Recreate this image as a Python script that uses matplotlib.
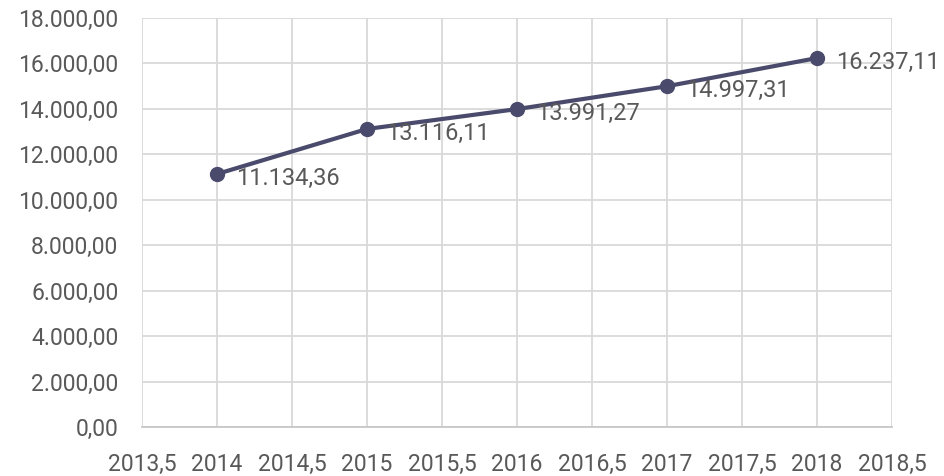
import numpy as np
import matplotlib.pyplot as plt
from matplotlib.ticker import FuncFormatter, MultipleLocator

years = [2014, 2015, 2016, 2017, 2018]
values = [11134.36, 13116.11, 13991.27, 14997.31, 16237.11]

line_color = "#4a4a6c"
text_color = "#595959"
grid_color = "#d9d9d9"


def br_format(v, decimals=2):
    s = f"{v:,.{decimals}f}"
    return s.replace(",", "X").replace(".", ",").replace("X", ".")


def x_format(v, pos):
    if abs(v - round(v)) < 1e-9:
        return str(int(round(v)))
    return f"{v:.1f}".replace(".", ",")


plt.rcParams["font.family"] = ["Roboto", "DejaVu Sans"]

fig = plt.figure(figsize=(9.45, 4.76), dpi=100)
ax = fig.add_axes([142 / 945, 1 - 427 / 476, 750 / 945, 409 / 476])

ax.plot(years, values, color=line_color, lw=3, marker="o", ms=10,
        zorder=3, clip_on=False)
for x, y in zip(years, values):
    ax.annotate(br_format(y), (x, y), xytext=(14, -3), textcoords="offset points",
                va="center", ha="left", fontsize=17, color=text_color,
                annotation_clip=False)

ax.set_xlim(2013.5, 2018.5)
ax.set_ylim(0, 18000)
ax.xaxis.set_major_locator(MultipleLocator(0.5))
ax.yaxis.set_major_locator(MultipleLocator(2000))
ax.xaxis.set_major_formatter(FuncFormatter(x_format))
ax.yaxis.set_major_formatter(FuncFormatter(lambda v, p: br_format(v)))

ax.grid(True, color=grid_color, lw=1.3)
ax.set_axisbelow(True)
for side in ["top", "right", "left"]:
    ax.spines[side].set_visible(False)
ax.spines["bottom"].set_color("#c8c8c8")
ax.spines["bottom"].set_linewidth(1.3)
ax.tick_params(axis="both", length=0, labelsize=16.5, colors=text_color)
ax.tick_params(axis="y", pad=17)
ax.tick_params(axis="x", pad=19)

fig.savefig("out.png", dpi=100)
